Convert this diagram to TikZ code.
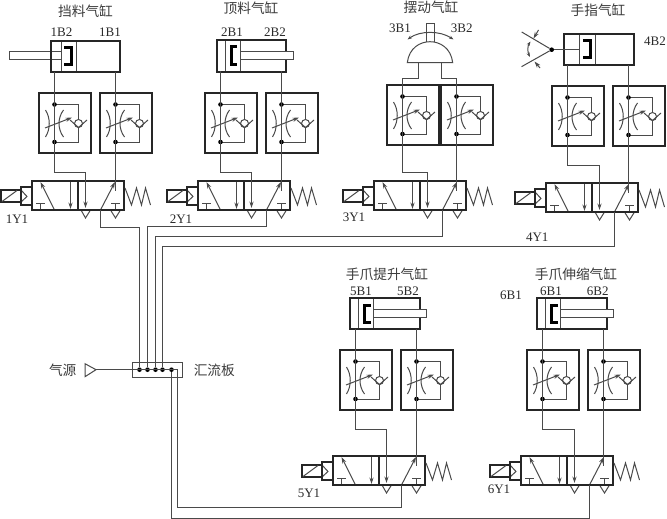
\documentclass[tikz,border=0pt]{standalone}
\usepackage{fontspec}
\usetikzlibrary{arrows.meta}
\setmainfont{Liberation Serif}
\newfontfamily\cjk{Noto Sans CJK SC}
\definecolor{ln}{HTML}{4A4A4A}
\definecolor{txt}{HTML}{2A2A2A}
\definecolor{txtc}{HTML}{3C3C3C}
\tikzset{
  thin line/.style={draw=ln,line width=1pt},
  thick line/.style={draw=black!85,line width=2pt},
  thickest/.style={draw=black,line width=3pt,line cap=butt},
  tip/.style={-{Stealth[length=6.5pt,width=4.2pt]}},
  tips/.style={{Stealth[length=4.5pt,width=3.2pt]}-{Stealth[length=4.5pt,width=3.2pt]}},
  junction/.style={circle,fill=black,inner sep=0pt,minimum size=4.6pt},
  lab/.style={inner sep=0pt,text=txt,font=\fontsize{13}{14}\selectfont},
  cn/.style={inner sep=0pt,text=txtc,font=\cjk\fontsize{13.7}{15}\selectfont},
}
% flow control unit: name, x, y of box top-left
\newcommand{\flowunit}[3]{%
\begin{scope}[shift={(#2,#3)}]
  \draw[thick line] (0,0) rectangle (52,60);
  \coordinate (#1-t) at (15.5,11.5);
  \coordinate (#1-d) at (15.5,49);
  \draw[thin line] (#1-t) -- (39.5,11.5) -- (39.5,26.5) (39.5,34.5) -- (39.5,49) -- (#1-d);
  \draw[thin line] (39.5,30.5) circle (4);
  \draw[thin line] (31,27) -- (39.5,34.5) -- (48,27);
  \draw[thin line] (6.5,17) .. controls (11.5,25) and (11.5,36) .. (6.5,44);
  \draw[thin line] (24.5,17) .. controls (18.5,25) and (18.5,36) .. (24.5,44);
  \draw[thin line,tip] (6,35) -- (33,24.5);
  \node[junction] at (#1-t) {};
  \node[junction] at (#1-d) {};
\end{scope}}
% directional valve: name, x, y of body top-left
\newcommand{\dirvalve}[3]{%
\begin{scope}[shift={(#2,#3)}]
  \coordinate (#1-in) at (53.5,27);
  \coordinate (#1-pt) at (53.5,0);
  \coordinate (#1-out) at (83.5,10);
  \coordinate (#1-sup) at (68.5,29);
  \draw[thin line] (49,29) -- (53.5,37) -- (58.5,29);
  \draw[thin line] (78.5,29) -- (83.5,37) -- (88.5,29);
  \draw[thin line,tip] (22.5,29) -- (8.5,1);
  \draw[thin line,tip] (38.5,0) -- (38.5,28);
  \draw[thin line,tip] (68.5,29) -- (83,1);
  \draw[thin line] (8.5,29) -- (8.5,22.5) (4,22.5) -- (13,22.5);
  \draw[thin line] (83.5,29) -- (83.5,22.5) (79,22.5) -- (88,22.5);
  \draw[thick line] (0,0) rectangle (92,29);
  \draw[thick line] (46,0) -- (46,29);
  \draw[thick line] (-11,6) rectangle (0,24);
  \draw[thin line] (-11,9) -- (-5,15.5) -- (-11,21);
  \draw[thick line] (-31,9) rectangle (-11,21);
  \draw[thin line] (-30,20.5) -- (-15,9.5);
  \draw[thin line] (93,7) -- (99.5,24) -- (104.5,7) -- (109.5,24) -- (113.5,7) -- (118.5,24);
\end{scope}}
% cylinder body: name, x, y, inner line 1, inner line 2
\newcommand{\cylbody}[5]{%
\begin{scope}[shift={(#2,#3)}]
  \coordinate (#1-b) at (0,31);
  \draw[thin line] (#4,0) -- (#4,31) (#5,0) -- (#5,31);
\end{scope}}
\begin{document}
\begin{tikzpicture}[x=1pt,y=-1pt]
\useasboundingbox (0,0) rectangle (667,519);
\fill[white] (0,0) rectangle (667,519);

% ---- cylinders
\cylbody{c1}{51}{41}{10.5}{25.5}
\draw[thin line,fill=white] (9,52) rectangle (61.5,60);
\draw[thick line] (51,41) rectangle (120,72);
\draw[thickest] (64,48) -- (71,48) -- (71,65) -- (64,65);
\cylbody{c2}{217}{40}{8.5}{23.5}
\draw[thick line] (217,40) rectangle (286,72);
\draw[thin line,fill=white] (240.5,52) rectangle (293.5,60);
\draw[thickest] (237,47) -- (231,47) -- (231,65) -- (237,65);
\cylbody{c4}{564}{34}{15.5}{31.5}
\draw[thick line] (564,34) rectangle (634,65);
\draw[thickest] (583,41) -- (590,41) -- (590,58) -- (583,58);
\cylbody{c5}{350}{298}{8.5}{23.5}
\draw[thick line] (350,298) rectangle (420,329);
\draw[thin line,fill=white] (373.5,309.5) rectangle (426.5,317.5);
\draw[thickest] (371,305) -- (364,305) -- (364,322) -- (371,322);
\cylbody{c6}{537}{298}{8.5}{23.5}
\draw[thick line] (537,298) rectangle (607,329);
\draw[thin line,fill=white] (560.5,309.5) rectangle (613.5,317.5);
\draw[thickest] (558,305) -- (551,305) -- (551,322) -- (558,322);

% ---- swing actuator
\draw[thin line] (426,41.7) -- (426,23.3) -- (434,23.3) -- (434,41.7);
\draw[thin line] (407.3,62.7) .. controls (409,48) and (420,41.7) .. (430,41.7)
   .. controls (440,41.7) and (451,48) .. (452.7,62.7) -- cycle;
\draw[thin line,tips] (407.5,39.5) .. controls (420,30.5) and (440,30.5) .. (453.5,39.5);
\coordinate (s3-l) at (418.5,62.7);
\coordinate (s3-r) at (441.5,62.7);

% ---- gripper
\coordinate (g4-j1) at (521.7,32);
\coordinate (g4-j2) at (521.5,66.7);
\node[junction] (g4-a) at (551.7,49.7) {};
\draw[thin line] (g4-j1) -- (g4-a) -- (g4-j2);
\draw[thin line] (g4-a) -- (580,49.7);
\draw[thin line,tips] (530.5,41.5) .. controls (527.5,46) and (527.5,52) .. (530,57);
\draw[thin line,tip] (538.5,30) -- (533.5,38.5);
\draw[thin line,tip] (540,68) -- (534.5,61.5);

% ---- flow control units
\flowunit{u1a}{39}{93}\flowunit{u1b}{100}{93}
\flowunit{u2a}{205}{93}\flowunit{u2b}{266}{93}
\flowunit{u3a}{387}{85}\flowunit{u3b}{441}{85}
\flowunit{u4a}{552}{86}\flowunit{u4b}{613}{86}
\flowunit{u5a}{340}{350}\flowunit{u5b}{401}{350}
\flowunit{u6a}{527}{350}\flowunit{u6b}{588}{350}

% ---- valves
\dirvalve{v1}{32}{181}
\dirvalve{v2}{198}{181}
\dirvalve{v3}{374}{181}
\dirvalve{v4}{546}{183}
\dirvalve{v5}{333}{456}
\dirvalve{v6}{521}{456}

% ---- cylinder -> unit -> valve lines
\draw[thin line] (u1a-t |- c1-b) -- (u1a-d) -- (u1a-d |- 0,172) -| (v1-pt);
\draw[thin line,tip] (v1-pt) -- (v1-in);
\draw[thin line] (u1b-t |- c1-b) -- (u1b-d) -- (u1b-d |- v1-out);
\draw[thin line] (u2a-t |- c2-b) -- (u2a-d) -- (u2a-d |- 0,172.3) -| (v2-pt);
\draw[thin line,tip] (v2-pt) -- (v2-in);
\draw[thin line] (u2b-t |- c2-b) -- (u2b-d) -- (u2b-d |- v2-out);
\draw[thin line] (s3-l) -- (s3-l |- 0,78.7) -| (u3a-t) -- (u3a-d) -- (u3a-d |- 0,172.3) -| (v3-pt);
\draw[thin line,tip] (v3-pt) -- (v3-in);
\draw[thin line] (s3-r) -- (s3-r |- 0,78.7) -| (u3b-t) -- (u3b-d) -- (u3b-d |- v3-out);
\draw[thin line] (u4a-t |- c4-b) -- (u4a-d) -- (u4a-d |- 0,165) -| (v4-pt);
\draw[thin line,tip] (v4-pt) -- (v4-in);
\draw[thin line] (u4b-t |- c4-b) -- (u4b-d) -- (u4b-d |- v4-out);
\draw[thin line] (u5a-t |- c5-b) -- (u5a-d) -- (u5a-d |- 0,429) -| (v5-pt);
\draw[thin line,tip] (v5-pt) -- (v5-in);
\draw[thin line] (u5b-t |- c5-b) -- (u5b-d) -- (u5b-d |- v5-out);
\draw[thin line] (u6a-t |- c6-b) -- (u6a-d) -- (u6a-d |- 0,429) -| (v6-pt);
\draw[thin line,tip] (v6-pt) -- (v6-in);
\draw[thin line] (u6b-t |- c6-b) -- (u6b-d) -- (u6b-d |- v6-out);

% ---- manifold
\draw[thin line] (132,362.7) rectangle (182.7,377.3);
\node[junction] (m1) at (139.5,369.7) {};
\node[junction] (m2) at (147.5,369.7) {};
\node[junction] (m3) at (155.5,369.7) {};
\node[junction] (m4) at (162.5,369.7) {};
\node[junction] (m5) at (171.5,369.7) {};
\coordinate (m6) at (177.5,369.7);
\coordinate (src) at (96,369.7);
\draw[thin line] (85,363.7) -- (85,376.7) -- (src) -- cycle;
\draw[thin line] (src) -- (m6);
\draw[thin line] (m1) -- (m1 |- 0,227.5) -| (v1-sup);
\draw[thin line] (m2) -- (m2 |- 0,226.5) -| (v2-sup);
\draw[thin line] (m3) -- (m3 |- 0,236.5) -| (v3-sup);
\draw[thin line] (m4) -- (m4 |- 0,246.5) -| (v4-sup);
\draw[thin line] (m6) -- (m6 |- 0,507) -| (v5-sup);
\draw[thin line] (m5) -- (m5 |- 0,518) -| (v6-sup);

% ---- labels
\node[cn] (t1) at (85.5,11) {挡料气缸};
\node[cn] (t2) at (251,8) {顶料气缸};
\node[cn] (t3) at (431,7) {摆动气缸};
\node[cn] (t4) at (598,10) {手指气缸};
\node[cn] (t5) at (387,274) {手爪提升气缸};
\node[cn] (t6) at (576,274) {手爪伸缩气缸};
\node[cn] (t7) at (62.7,370.7) {气源};
\node[cn] (t8) at (214.3,370) {汇流板};
\node[lab] (b1) at (61.5,32) {1B2};
\node[lab] (b2) at (110,32) {1B1};
\node[lab] (b3) at (232,32) {2B1};
\node[lab] (b4) at (275,32) {2B2};
\node[lab] (b5) at (400,28) {3B1};
\node[lab] (b6) at (461.7,28) {3B2};
\node[lab] (b7) at (655,41) {4B2};
\node[lab] (b8) at (361,291) {5B1};
\node[lab] (b9) at (408,291) {5B2};
\node[lab] (b10) at (511,295.5) {6B1};
\node[lab] (b11) at (551,291) {6B1};
\node[lab] (b12) at (597.7,291) {6B2};
\node[lab] (y1) at (17,219) {1Y1};
\node[lab] (y2) at (181,219) {2Y1};
\node[lab] (y3) at (354,217) {3Y1};
\node[lab] (y4) at (537.3,237) {4Y1};
\node[lab] (y5) at (309,493) {5Y1};
\node[lab] (y6) at (499,489) {6Y1};
\end{tikzpicture}
\end{document}
